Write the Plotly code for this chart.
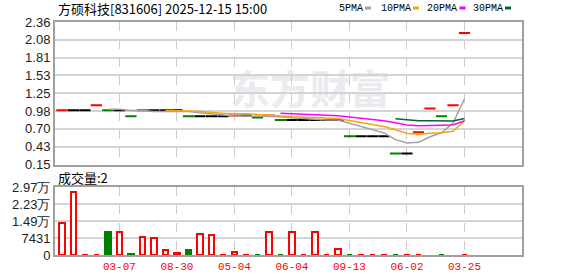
import plotly.graph_objects as go
import pandas as pd

# ---------------- data ----------------
bar_index = list(range(36))
closes = [0.99, 0.99, 0.99, 1.07, 0.99, 0.99, 0.90, 0.99, 0.99, 0.99,
          0.99, 0.90, 0.90, 0.90, 0.90, 0.91, 0.91, 0.88, 0.91, 0.84,
          0.84, 0.84, 0.84, 0.84, 0.84, 0.59, 0.59, 0.59, 0.59, 0.32,
          0.32, 0.65, 1.02, 0.90, 1.07, 2.19]
volumes = [14160, 27460, 150, 150, 9870, 9870, 300, 7720, 7300, 2150,
           1000, 2270, 9000, 8580, 150, 1290, 150, 150, 9870, 150,
           9870, 150, 9870, 150, 2570, 150, 150, 150, 150, 150,
           150, 150, None, 150, None, 2]
vol_kind = ["h", "h", "h", "h", "g", "h", "g", "h", "h", "h",
            "s", "g", "h", "h", "h", "h", "h", "g", "h", "g",
            "h", "h", "h", "h", "h", "g", "h", "h", "h", "g",
            "h", "h", "h", "g", "h", "h"]
x_tick_pos = [5, 10, 15, 20, 25, 30, 35]
x_tick_labels = ["03-07", "08-30", "05-04", "06-04", "09-13", "06-02", "03-25"]
price_tick_labels = ["0.15", "0.43", "0.70", "0.98", "1.25", "1.53", "1.81", "2.08", "2.36"]
price_min, price_max = 0.15, 2.36
vol_max = 29724
vol_tick_labels = ["0", "7431", "1.49万", "2.23万", "2.97万"]
ma_periods = [5, 10, 20, 30]
ma_names = ["5PMA", "10PMA", "20PMA", "30PMA"]
title_text = "方硕科技[831606] 2025-12-15 15:00"

# ---------------- styles ----------------
RED, GREEN, BLACK = "#ff0000", "#008000", "#000000"
ma_colors = ["#a0a0a0", "#f5a511", "#ff00ff", "#006633"]
W, H = 578, 276
L, R, T, B = 55, 522, 22, 255


def px(x):
    return (x - L) / (R - L)


def py(y):
    return (B - y) / (B - T)


price_ticks = [price_min + i * (price_max - price_min) / 8 for i in range(9)]
vol_ticks = [i * vol_max / 4 for i in range(5)]

candle_colors = []
for i, c in enumerate(closes):
    if i == 0 or c > closes[i - 1]:
        candle_colors.append(RED)
    elif c < closes[i - 1]:
        candle_colors.append(GREEN)
    else:
        candle_colors.append(BLACK)

fill_map = {"h": "#ffffff", "s": RED, "g": GREEN}
edge_map = {"h": RED, "s": RED, "g": GREEN}

fig = go.Figure()

# candles (flat: open == close)
fig.add_trace(go.Scatter(
    x=bar_index, y=closes, mode="markers",
    marker=dict(symbol="line-ew", size=8, line=dict(color=candle_colors, width=2)),
    xaxis="x", yaxis="y", showlegend=False, hoverinfo="skip"))

# moving averages
s = pd.Series(closes)
for n, name, col in zip(ma_periods, ma_names, ma_colors):
    ma = s.rolling(n).mean()
    fig.add_trace(go.Scatter(
        x=bar_index, y=ma, mode="lines", name=name,
        line=dict(color=col, width=1.5), xaxis="x", yaxis="y",
        showlegend=False, hoverinfo="skip"))

# volume
fig.add_trace(go.Bar(
    x=bar_index, y=volumes, width=0.5,
    marker=dict(color=[fill_map[k] for k in vol_kind],
                line=dict(color=[edge_map[k] for k in vol_kind], width=2)),
    xaxis="x2", yaxis="y2", showlegend=False, hoverinfo="skip"))

axis_line = dict(showline=True, linecolor="#a0a0a0", linewidth=2, mirror=True,
                 automargin=False, zeroline=False, ticks="")
xrange = [-0.6, 40]

fig.update_layout(
    width=W, height=H,
    margin=dict(l=L, r=W - R, t=T, b=H - B, autoexpand=False),
    paper_bgcolor="white", plot_bgcolor="white",
    bargap=0,
    xaxis=dict(domain=[0, 1], anchor="y", range=xrange, tickvals=x_tick_pos,
               showticklabels=False, showgrid=True, griddash="dash",
               gridcolor="#cccccc", gridwidth=1, **axis_line),
    yaxis=dict(domain=[py(164.5), 1], anchor="x", range=[price_min, price_max],
               tickvals=price_ticks, ticktext=price_tick_labels,
               showgrid=True, gridcolor="#d4d4d4", gridwidth=2,
               tickfont=dict(family="Liberation Sans", size=13, color="#222222"),
               **axis_line),
    xaxis2=dict(domain=[0, 1], anchor="y2", range=xrange, tickvals=x_tick_pos,
                ticktext=x_tick_labels, showgrid=True, griddash="dash",
                gridcolor="#cccccc", gridwidth=1,
                tickfont=dict(family="Liberation Mono", size=11, color=RED),
                **axis_line),
    yaxis2=dict(domain=[0, py(187)], anchor="x2", range=[0, vol_max],
                tickvals=vol_ticks, ticktext=vol_tick_labels,
                showgrid=True, gridcolor="#d4d4d4", gridwidth=2,
                tickfont=dict(family="Liberation Sans", size=13, color="#222222"),
                **axis_line),
)

annotations = []
shapes = []
# watermark (below traces)
shapes.append(dict(type="rect", xref="paper", yref="paper", layer="below",
                   x0=px(236), x1=px(384), y0=py(114), y1=py(72),
                   line=dict(width=0), fillcolor="rgba(0,0,0,0)",
                   label=dict(text="东方财富", textposition="middle center",
                              font=dict(family="Noto Sans CJK SC", size=40,
                                        color="#eaeaef", weight="bold"))))
# title
annotations.append(dict(x=px(56), y=py(9), xref="paper", yref="paper",
                        xanchor="left", yanchor="middle", text=title_text,
                        showarrow=False,
                        font=dict(family="Noto Sans CJK SC", size=13, color="#000000")))
# volume label
annotations.append(dict(x=px(56), y=py(177), xref="paper", yref="paper",
                        xanchor="left", yanchor="middle",
                        text=f"成交量:{volumes[-1]}", showarrow=False,
                        font=dict(family="Noto Sans CJK SC", size=13, color="#000000")))
# legend
legend_text_x = [337, 379, 424.5, 470.5]
legend_sq_x = [365, 413, 459.5, 505]
for name, col, tx, sx in zip(ma_names, ma_colors, legend_text_x, legend_sq_x):
    annotations.append(dict(x=px(tx), y=py(9), xref="paper", yref="paper",
                            xanchor="left", yanchor="middle", text=name,
                            showarrow=False,
                            font=dict(family="Liberation Mono", size=10, color="#000000")))
    shapes.append(dict(type="rect", xref="paper", yref="paper",
                       x0=px(sx), x1=px(sx + 6), y0=py(9.5), y1=py(6.5),
                       fillcolor=col, line=dict(width=0)))

fig.update_layout(annotations=annotations, shapes=shapes)

fig.write_html("out.html")
